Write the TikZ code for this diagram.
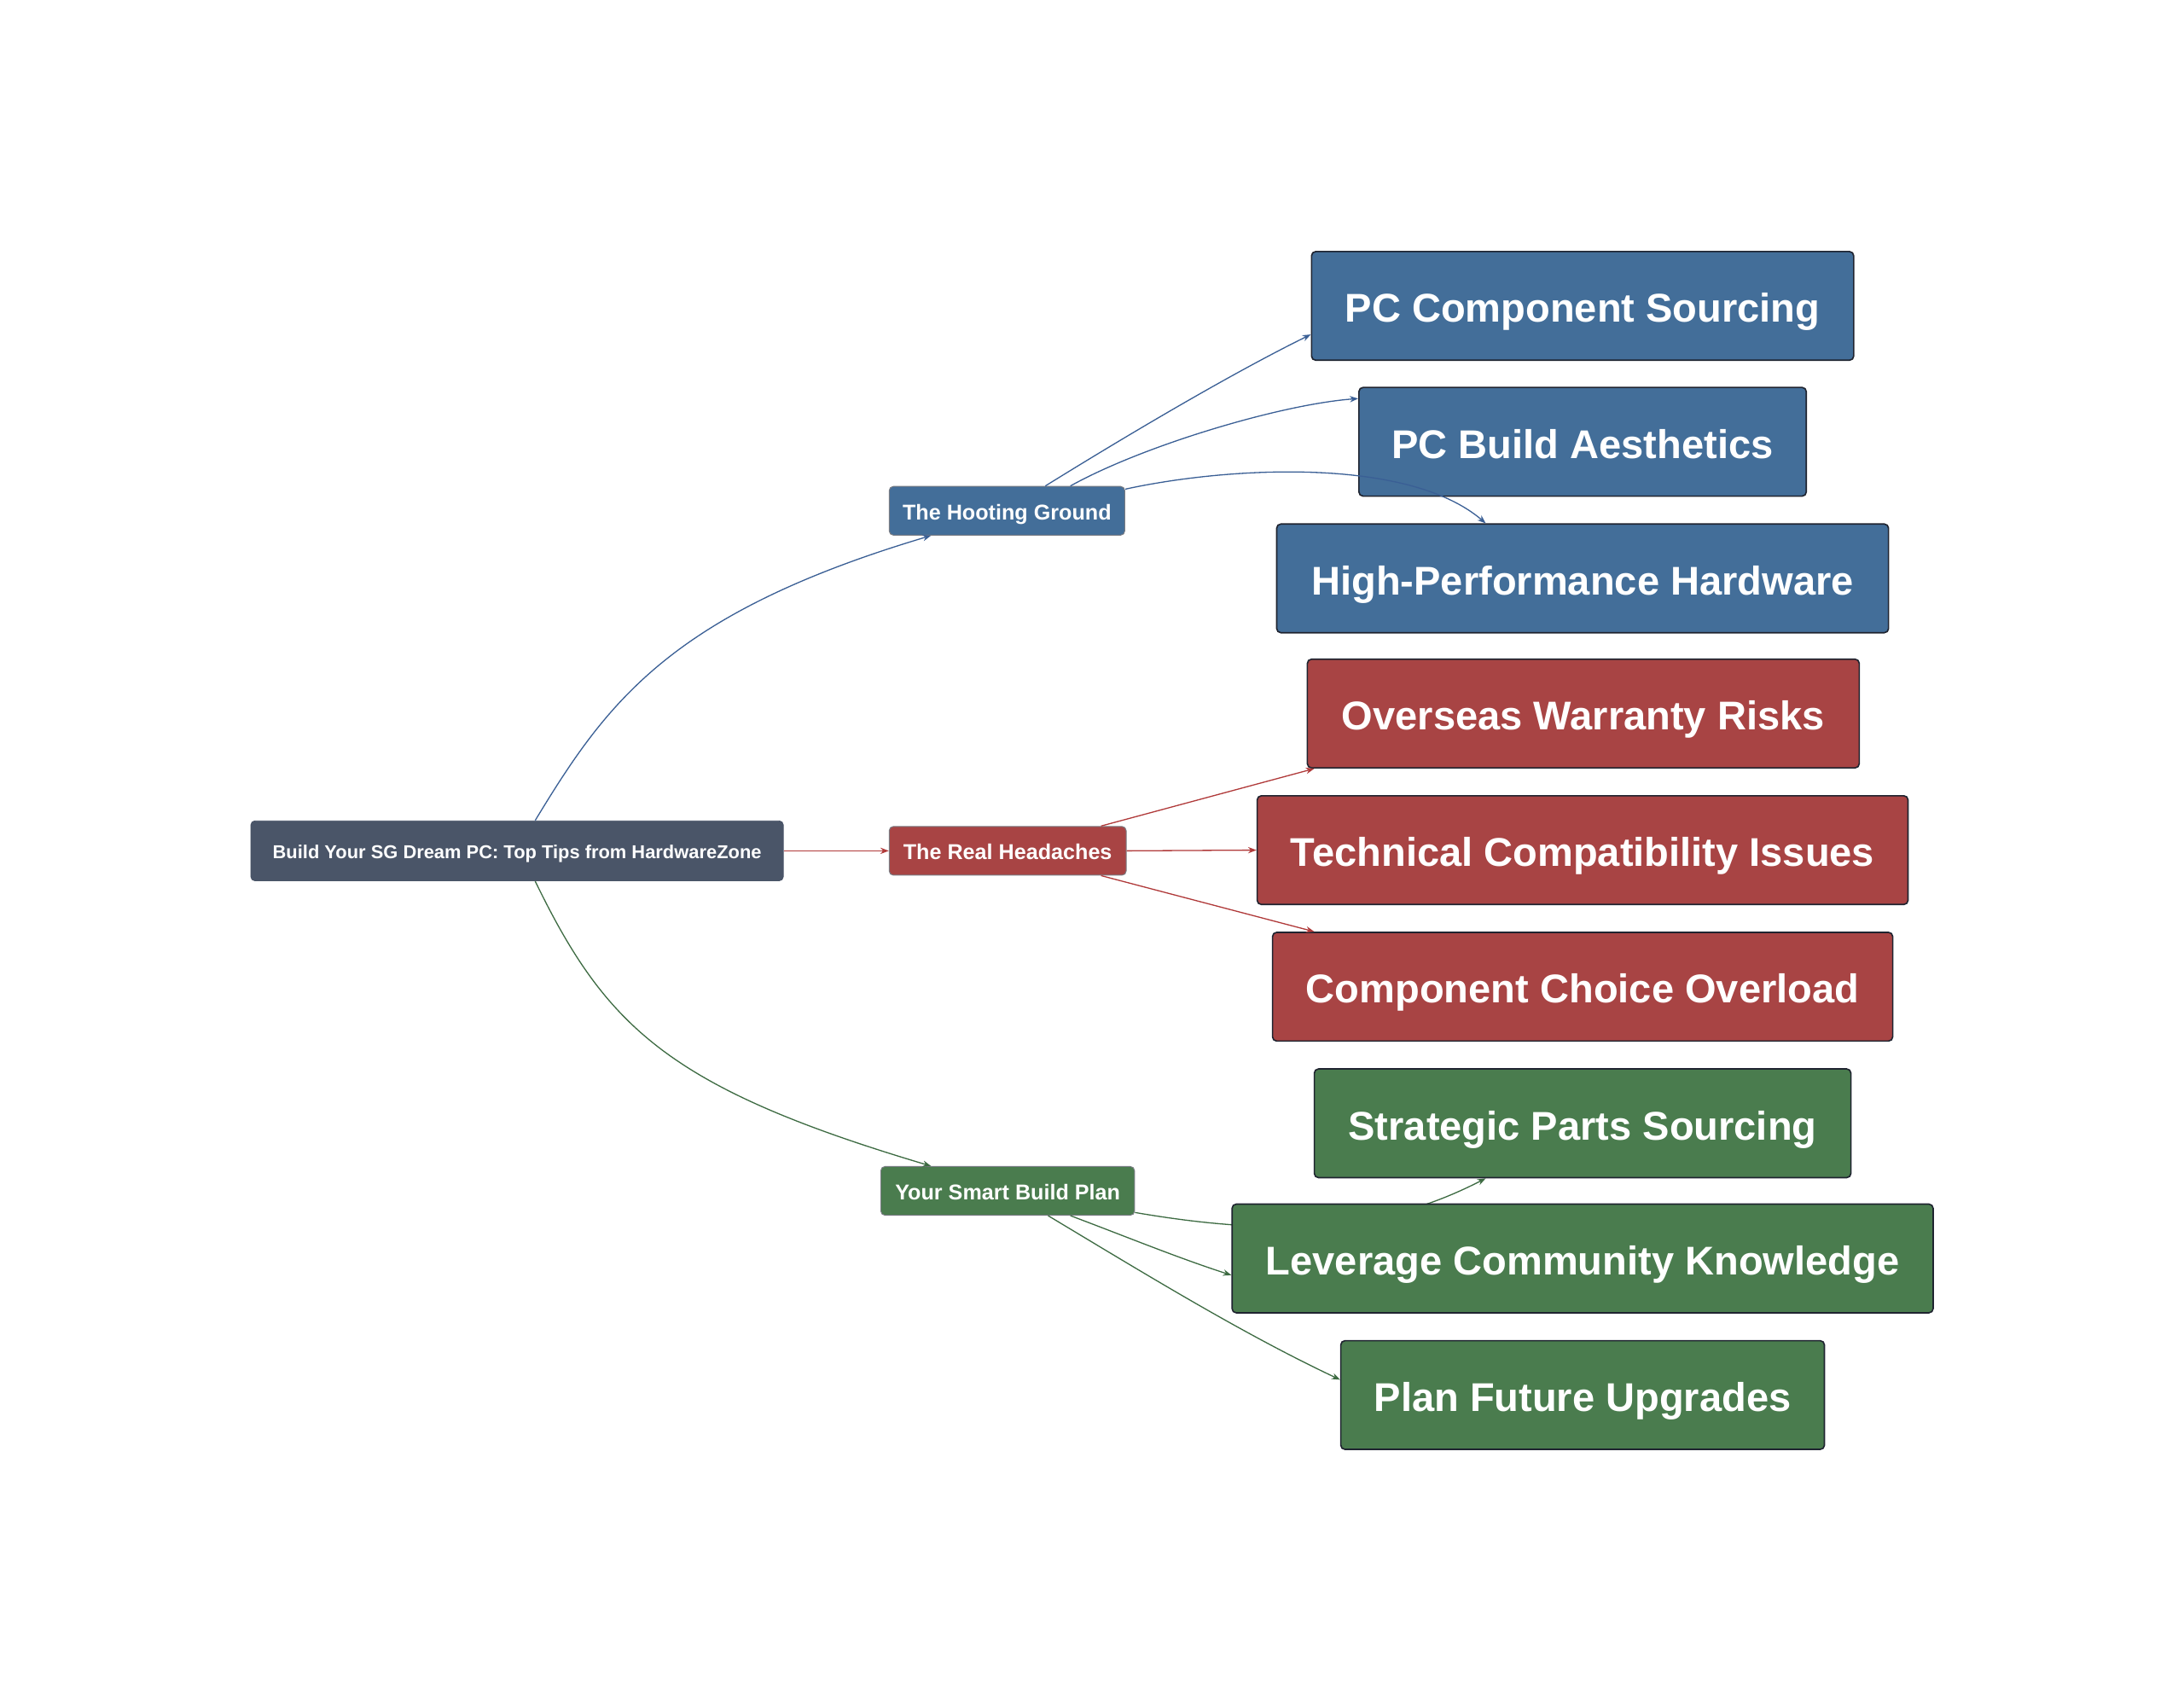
\documentclass[tikz,border=0pt]{standalone}
\usepackage{fontspec}
\setmainfont{Liberation Sans}
\usetikzlibrary{arrows.meta}
\pgfdeclarelayer{bg}
\pgfsetlayers{bg,main}
\definecolor{rootc}{HTML}{4A5568}
\definecolor{bluec}{HTML}{436E99}
\definecolor{redc}{HTML}{A84444}
\definecolor{greenc}{HTML}{4A7C4E}
\definecolor{blueline}{HTML}{3A5F95}
\definecolor{redline}{HTML}{B03A3A}
\definecolor{greenline}{HTML}{3D6B42}
\definecolor{edgec}{HTML}{1F2430}
\tikzset{
  box/.style={rectangle, rounded corners=3pt, inner sep=0pt, text=white, align=center, text depth=0pt},
  rootbox/.style={box, fill=rootc, draw=rootc, line width=0.6pt, minimum height=43pt, text height=11pt, font=\fontsize{13.4}{16}\selectfont\bfseries},
  midbox/.style={box, draw=edgec!60, line width=0.6pt, minimum height=35pt, text height=12.6pt, font=\fontsize{15.4}{18}\selectfont\bfseries},
  bigbox/.style={box, draw=edgec, line width=1pt, minimum height=78pt, text height=23.6pt, font=\fontsize{28.8}{34}\selectfont\bfseries},
  link/.style={line width=0.8pt, -{Stealth[length=6pt,width=4.5pt]}},
  bluelink/.style={link, draw=blueline},
  redlink/.style={link, draw=redline},
  greenlink/.style={link, draw=greenline}
}
\begin{document}
\begin{tikzpicture}[x=1pt,y=-1pt]
\begin{pgfonlayer}{bg}
\fill[white] (0,0) rectangle (1567,1220.5);
\end{pgfonlayer}
\useasboundingbox (0,0) rectangle (1567,1220.5);

% nodes
\node[rootbox, minimum width=382pt] (root) at (371,610.5) {Build Your SG Dream PC: Top Tips from HardwareZone};
\node[midbox, fill=bluec, minimum width=169pt] (hoot) at (722.5,366.5) {The Hooting Ground};
\node[midbox, fill=redc, minimum width=170pt] (real) at (723,610.5) {The Real Headaches};
\node[midbox, fill=greenc, minimum width=182pt] (smart) at (723,854.5) {Your Smart Build Plan};

\node[bigbox, fill=bluec, minimum width=389pt] (pcs) at (1135.5,219.5) {PC Component Sourcing};
\node[bigbox, fill=bluec, minimum width=321pt] (pba) at (1135.5,317) {PC Build Aesthetics};
\node[bigbox, fill=bluec, minimum width=439pt] (hph) at (1135.5,415) {High-Performance Hardware};
\node[bigbox, fill=redc, minimum width=396pt] (owr) at (1136,512) {Overseas Warranty Risks};
\node[bigbox, fill=redc, minimum width=467pt] (tci) at (1135.5,610) {Technical Compatibility Issues};
\node[bigbox, fill=redc, minimum width=445pt] (cco) at (1135.5,708) {Component Choice Overload};
\node[bigbox, fill=greenc, minimum width=385pt] (sps) at (1135.5,806) {Strategic Parts Sourcing};
\node[bigbox, fill=greenc, minimum width=503pt] (lck) at (1135.5,903) {Leverage Community Knowledge};
\node[bigbox, fill=greenc, minimum width=347pt] (pfu) at (1135.5,1001) {Plan Future Upgrades};

% connectors
\draw[bluelink] ([xshift=13pt]root.north) .. controls +(51,-84) and +(-188,56) .. ([xshift=-54.5pt]hoot.south);
\draw[redlink] (root.east) -- (real.west);
\draw[greenlink] ([xshift=13pt]root.south) .. controls +(51,105) and +(-188,-56) .. ([xshift=-55pt]smart.north);

\draw[bluelink] ([xshift=27.5pt]hoot.north) .. controls +(50,-31) and +(-61,30) .. ([yshift=-20.5pt]pcs.west);
\draw[bluelink] ([xshift=45.5pt]hoot.north) .. controls +(52,-29) and +(-55,4) .. ([yshift=31pt]pba.west);
\draw[bluelink] ([yshift=15.5pt]hoot.east) .. controls +(73,-16) and +(-56,-48) .. ([xshift=-69.5pt]hph.north);

\draw[redlink] ([xshift=67pt]real.north) -- ([xshift=-193pt]owr.south);
\draw[redlink] (real.east) -- (tci.west);
\draw[redlink] ([xshift=67pt]real.south) -- ([xshift=-192.5pt]cco.north);

\begin{pgfonlayer}{bg}
\draw[greenlink] ([yshift=-15.5pt]smart.east) .. controls +(116,20) and +(-66,34) .. ([xshift=-69.5pt]sps.south);
\end{pgfonlayer}
\draw[greenlink] ([xshift=45pt]smart.south) .. controls +(40,15) and +(-40,-13) .. ([yshift=-12pt]lck.west);
\draw[greenlink] ([xshift=29pt]smart.south) .. controls +(70,42) and +(-70,-33) .. ([yshift=11pt]pfu.west);
\end{tikzpicture}
\end{document}
